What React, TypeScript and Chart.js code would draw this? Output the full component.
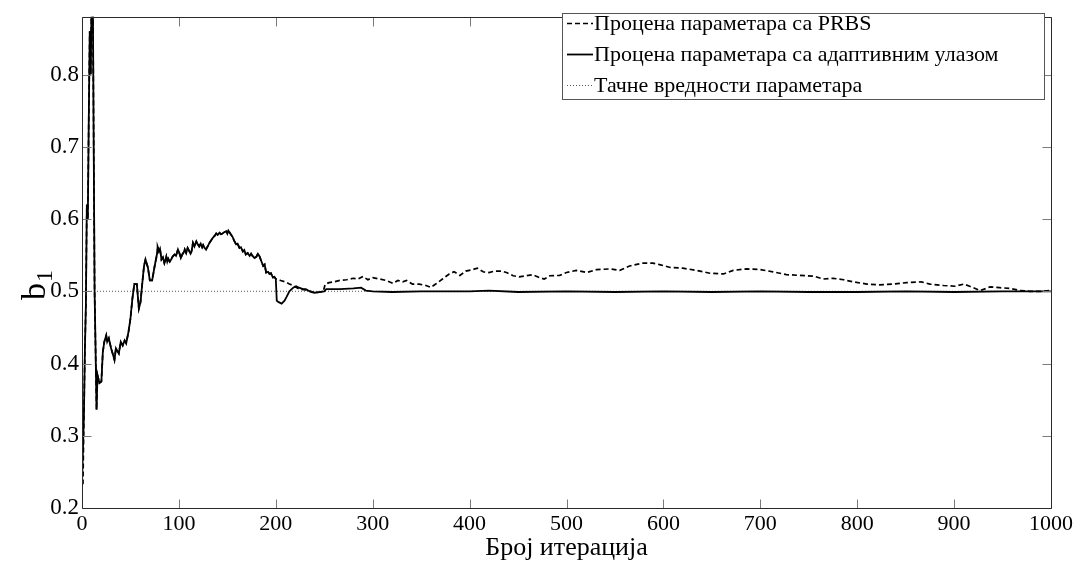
import React, { useEffect, useRef } from "react";
import { Chart, registerables } from "chart.js";

Chart.register(...registerables);

// ---- Data ----
// Shared part of both estimates (identical until ~200 iterations)
const commonIter = [
  0, 1, 2, 3, 4, 5, 6, 7, 8, 9, 10, 11, 12, 13, 14, 15, 16, 18, 20, 21.5, 23, 25, 26, 27.7, 30, 32, 33.5,
  35, 38, 40, 42, 44, 45.6, 48, 50, 52, 54, 56.6, 58.7, 60.4, 62, 64, 65.5, 68, 70, 72.4, 75, 77.6,
  78, 79.5, 80.5, 82, 83.5, 85, 86, 87, 88, 89, 90.5, 92, 93.5, 95.5, 97, 99, 100.5, 102, 103.5, 105, 106,
  107.5, 109, 110.5, 112, 113, 114.5, 116, 118, 119.5, 121, 122.5, 124, 125, 126.5, 128, 130, 131.5, 133,
  135, 137, 138.5, 140, 142, 143.5, 145, 147, 149, 150, 151, 152.5, 154, 155.5, 157, 159, 160.5, 162.5,
  164, 166, 167.5, 169, 171, 173, 174.5, 176, 178, 180, 181.5, 183, 185, 187, 188.5, 190, 192, 193.5, 195,
  197, 198.5, 200,
];
const commonVal = [
  0.234, 0.234, 0.33, 0.42, 0.48, 0.62, 0.6, 0.74, 0.86, 0.8, 0.92, 0.95, 0.72, 0.5, 0.42, 0.336, 0.384,
  0.373, 0.375, 0.416, 0.43, 0.439, 0.43, 0.435, 0.421, 0.412, 0.405, 0.421, 0.414, 0.43, 0.425, 0.432, 0.428,
  0.444, 0.462, 0.49, 0.51, 0.51, 0.476, 0.485, 0.508, 0.535, 0.544, 0.533, 0.515, 0.515, 0.535, 0.553,
  0.562, 0.556, 0.559, 0.544, 0.547, 0.539, 0.543, 0.548, 0.541, 0.545, 0.541, 0.544, 0.548, 0.551, 0.549,
  0.558, 0.553, 0.546, 0.551, 0.554, 0.558, 0.553, 0.56, 0.556, 0.552, 0.555, 0.567, 0.562, 0.569, 0.565,
  0.562, 0.566, 0.561, 0.564, 0.56, 0.558, 0.563, 0.567, 0.57, 0.574, 0.577, 0.58, 0.578, 0.581, 0.579, 0.58,
  0.582, 0.583, 0.58, 0.584, 0.581, 0.578, 0.575, 0.57, 0.565, 0.566, 0.56, 0.561, 0.555, 0.557, 0.551,
  0.553, 0.549, 0.552, 0.549, 0.546, 0.548, 0.552, 0.549, 0.542, 0.535, 0.537, 0.526, 0.527, 0.524, 0.525,
  0.519, 0.52, 0.517,
];

// PRBS estimate after the split
const prbsIter = [
  201, 205, 210, 214, 218, 221, 224, 231, 236, 240, 245, 249, 251, 255, 260, 266, 273, 280, 285, 290, 295,
  300, 307, 314, 321, 326, 331, 335, 341, 348, 355, 360, 365, 372, 379, 384, 390, 396, 403, 408, 414, 420,
  426, 433, 438, 445, 451, 458, 465, 472, 477, 483, 493, 500, 510, 521, 531, 545, 555, 565, 579, 589, 596,
  607, 620, 634, 648, 662, 672, 686, 700, 713, 727, 741, 755, 765, 775, 786, 796, 810, 823, 837, 851, 866,
  875, 889, 901, 910, 916, 927, 937, 947, 958, 968, 978, 989, 1000,
];
const prbsVal = [
  0.517, 0.515, 0.513, 0.51, 0.508, 0.5055, 0.503, 0.502, 0.5, 0.498, 0.499, 0.5, 0.51, 0.512, 0.513, 0.515,
  0.516, 0.518, 0.517, 0.5205, 0.516, 0.519, 0.517, 0.515, 0.511, 0.515, 0.513, 0.515, 0.51, 0.51, 0.508,
  0.5055, 0.51, 0.517, 0.524, 0.527, 0.522, 0.528, 0.53, 0.532, 0.527, 0.526, 0.528, 0.528, 0.526, 0.5215,
  0.52, 0.5215, 0.523, 0.519, 0.517, 0.5215, 0.522, 0.526, 0.529, 0.526, 0.53, 0.531, 0.529, 0.535, 0.539,
  0.539, 0.537, 0.533, 0.532, 0.529, 0.525, 0.524, 0.529, 0.531, 0.53, 0.527, 0.523, 0.522, 0.521, 0.517,
  0.518, 0.516, 0.513, 0.51, 0.509, 0.51, 0.512, 0.513, 0.51, 0.508, 0.507, 0.51, 0.507, 0.501, 0.506, 0.505,
  0.504, 0.501, 0.5, 0.5, 0.501,
];

// Adaptive-input estimate after the split
const adaptIter = [
  201, 203, 206, 209, 211, 214, 218, 221, 224, 228, 231, 236, 240, 245, 250, 252, 266, 280, 288, 293, 300,
  320, 350, 400, 420, 450, 500, 550, 600, 650, 700, 750, 800, 850, 900, 950, 1000,
];
const adaptVal = [
  0.487, 0.485, 0.483, 0.487, 0.492, 0.5, 0.505, 0.507, 0.505, 0.503, 0.503, 0.499, 0.498, 0.499, 0.5, 0.503,
  0.503, 0.504, 0.505, 0.501, 0.5, 0.499, 0.5, 0.5, 0.501, 0.499, 0.5, 0.499, 0.5, 0.499, 0.5, 0.499, 0.499,
  0.5, 0.499, 0.5, 0.5,
];

// True parameter value
const trueIter = [0, 1000];
const trueVal = [0.5, 0.5];

const xTickValues = [0, 100, 200, 300, 400, 500, 600, 700, 800, 900, 1000];
const xTickLabels = ["0", "100", "200", "300", "400", "500", "600", "700", "800", "900", "1000"];
const yTickValues = [0.2, 0.3, 0.4, 0.5, 0.6, 0.7, 0.8];
const yTickLabels = ["0.2", "0.3", "0.4", "0.5", "0.6", "0.7", "0.8"];

const seriesLabels = [
  "Процена параметара са PRBS",
  "Процена параметара са адаптивним улазом",
  "Тачне вредности параметара",
];
const xTitle = "Број итерација";
const yTitleMain = "b";
const yTitleSub = "1";

const X_MIN = 0;
const X_MAX = 1000;
const Y_MIN = 0.2;
const Y_MAX = 0.88;

const FONT = "'Liberation Serif', 'Times New Roman', serif";

function zip(xs: number[], ys: number[]) {
  return xs.map((x, i) => ({ x, y: ys[i] }));
}

const frameAndLegend = {
  id: "frameAndLegend",
  afterDraw(chart: any) {
    const { ctx, chartArea } = chart;
    const xs = chart.scales.x;
    const ys = chart.scales.y;
    const L = Math.round(chartArea.left) + 0.5;
    const R = Math.round(chartArea.right) + 0.5;
    const T = Math.round(chartArea.top) + 0.5;
    const B = Math.round(chartArea.bottom) + 0.5;
    const tl = 9;

    ctx.save();
    // inward ticks on all four sides
    ctx.strokeStyle = "#7a7a7a";
    ctx.lineWidth = 1;
    ctx.beginPath();
    xTickValues.forEach((v) => {
      const px = Math.round(xs.getPixelForValue(v)) + 0.5;
      ctx.moveTo(px, B);
      ctx.lineTo(px, B - tl);
      ctx.moveTo(px, T);
      ctx.lineTo(px, T + tl);
    });
    yTickValues.forEach((v) => {
      const py = Math.round(ys.getPixelForValue(v)) + 0.5;
      ctx.moveTo(L, py);
      ctx.lineTo(L + tl, py);
      ctx.moveTo(R, py);
      ctx.lineTo(R - tl, py);
    });
    ctx.stroke();

    // box
    ctx.strokeStyle = "#2a2a2a";
    ctx.beginPath();
    ctx.rect(L, T, R - L, B - T);
    ctx.stroke();

    // legend
    const lx0 = 562.5;
    const lx1 = 1044.5;
    const ly0 = 13.5;
    const ly1 = 99.5;
    ctx.fillStyle = "#ffffff";
    ctx.fillRect(lx0, ly0, lx1 - lx0, ly1 - ly0);
    ctx.strokeStyle = "#555555";
    ctx.lineWidth = 1;
    ctx.strokeRect(lx0, ly0, lx1 - lx0, ly1 - ly0);

    const rows = [23, 54, 85];
    const legendOrder = [0, 1, 2];
    ctx.font = `22px ${FONT}`;
    ctx.textBaseline = "middle";
    ctx.textAlign = "left";
    legendOrder.forEach((di, i) => {
      const ds = chart.data.datasets[di];
      const y = rows[i] + 0.5;
      ctx.save();
      ctx.strokeStyle = ds.borderColor;
      ctx.lineWidth = ds.borderWidth;
      ctx.setLineDash(ds.borderDash || []);
      ctx.beginPath();
      ctx.moveTo(567, y);
      ctx.lineTo(593, y);
      ctx.stroke();
      ctx.restore();
      ctx.fillStyle = "#000000";
      ctx.fillText(ds.label, 594, rows[i] + 1);
    });

    // y title: b with subscript 1, rotated
    ctx.fillStyle = "#000000";
    ctx.translate(45, 300);
    ctx.rotate(-Math.PI / 2);
    ctx.textBaseline = "alphabetic";
    ctx.font = `34px ${FONT}`;
    ctx.fillText(yTitleMain, 0, 0);
    const bw = ctx.measureText(yTitleMain).width;
    ctx.font = `24px ${FONT}`;
    ctx.fillText(yTitleSub, bw + 1, 7);
    ctx.restore();
  },
};

export default function App() {
  const canvasRef = useRef<HTMLCanvasElement | null>(null);

  useEffect(() => {
    const canvas = canvasRef.current;
    if (!canvas) return;
    const prev = document.body.style.margin;
    document.body.style.margin = "0";

    const chart = new Chart(canvas, {
      type: "line",
      data: {
        datasets: [
          {
            label: seriesLabels[0],
            data: zip(commonIter.concat(prbsIter), commonVal.concat(prbsVal)),
            borderColor: "#000000",
            borderWidth: 1.7,
            borderDash: [5, 3],
            pointRadius: 0,
            tension: 0,
            fill: false,
            order: 1,
          },
          {
            label: seriesLabels[1],
            data: zip(commonIter.concat(adaptIter), commonVal.concat(adaptVal)),
            borderColor: "#000000",
            borderWidth: 1.8,
            pointRadius: 0,
            tension: 0,
            fill: false,
            order: 0,
          },
          {
            label: seriesLabels[2],
            data: zip(trueIter, trueVal),
            borderColor: "#555555",
            borderWidth: 1,
            borderDash: [1, 2],
            pointRadius: 0,
            tension: 0,
            fill: false,
            order: 2,
          },
        ],
      },
      options: {
        responsive: false,
        animation: false,
        parsing: false,
        normalized: true,
        layout: { padding: { left: 0, right: 25, top: 11, bottom: 0 } },
        plugins: {
          legend: { display: false },
          tooltip: { enabled: false },
          title: { display: false },
        },
        scales: {
          x: {
            type: "linear",
            min: X_MIN,
            max: X_MAX,
            grid: { display: false, drawTicks: false },
            border: { display: false },
            afterFit: (s: any) => {
              s.height = 58;
            },
            afterBuildTicks: (s: any) => {
              s.ticks = xTickValues.map((v) => ({ value: v }));
            },
            ticks: {
              autoSkip: false,
              maxRotation: 0,
              padding: 3,
              color: "#000000",
              font: { family: FONT, size: 22 },
              callback: (v: any) => {
                const i = xTickValues.indexOf(Number(v));
                return i >= 0 ? xTickLabels[i] : "";
              },
            },
            title: {
              display: true,
              text: xTitle,
              color: "#000000",
              font: { family: FONT, size: 26 },
              padding: { top: 0, bottom: 2 },
            },
          },
          y: {
            type: "linear",
            min: Y_MIN,
            max: Y_MAX,
            grid: { display: false, drawTicks: false },
            border: { display: false },
            afterFit: (s: any) => {
              s.width = 82;
            },
            afterBuildTicks: (s: any) => {
              s.ticks = yTickValues.map((v) => ({ value: v }));
            },
            ticks: {
              autoSkip: false,
              padding: 3,
              color: "#000000",
              font: { family: FONT, size: 23 },
              callback: (v: any) => {
                const i = yTickValues.findIndex((t) => Math.abs(t - Number(v)) < 1e-9);
                return i >= 0 ? yTickLabels[i] : "";
              },
            },
          },
        },
      },
      plugins: [frameAndLegend],
    });

    return () => {
      chart.destroy();
      document.body.style.margin = prev;
    };
  }, []);

  return (
    <div style={{ position: "absolute", left: 0, top: 0, width: 1076, height: 566, background: "#fff" }}>
      <canvas ref={canvasRef} width={1076} height={566} style={{ display: "block", width: 1076, height: 566 }} />
    </div>
  );
}
